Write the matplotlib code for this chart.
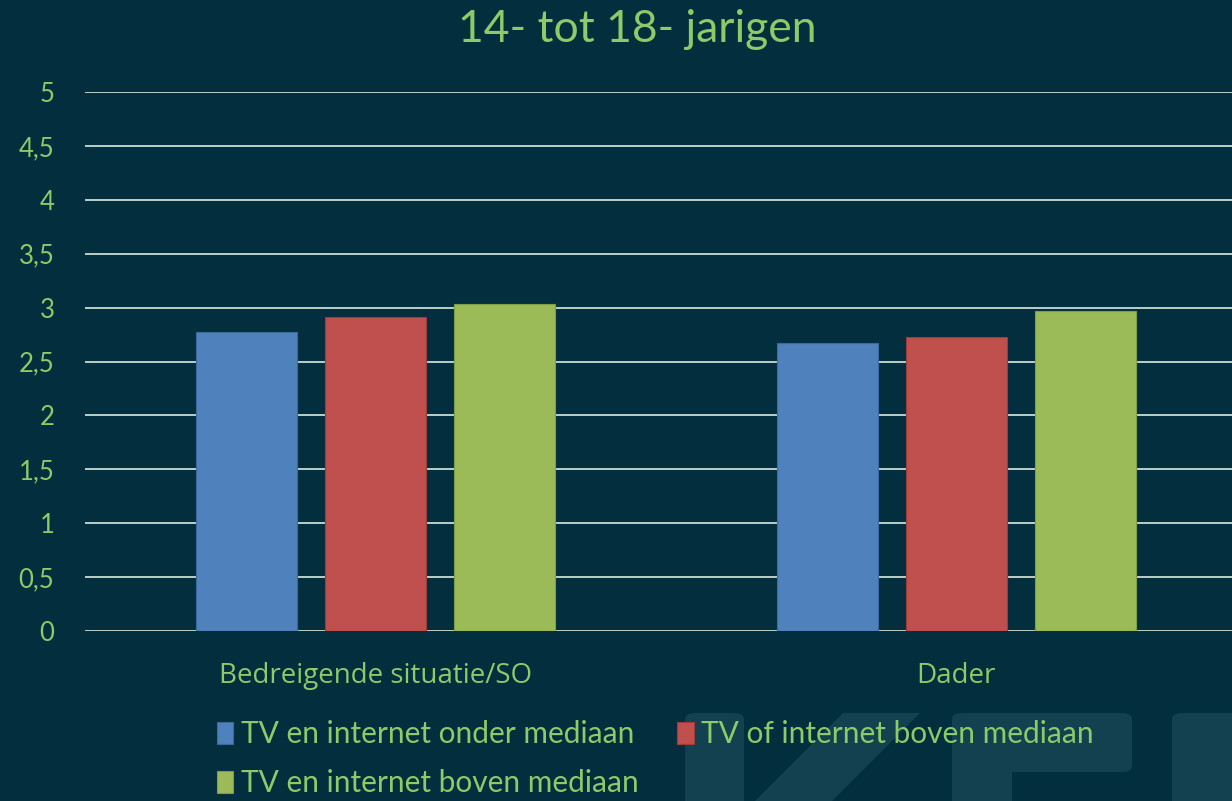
import matplotlib
matplotlib.use("Agg")
import matplotlib.pyplot as plt
from matplotlib.patches import FancyBboxPatch, Polygon
import numpy as np

# ---- data ----
categories = ["Bedreigende situatie/SO", "Dader"]
series_names = ["TV en internet onder mediaan",
                "TV of internet boven mediaan",
                "TV en internet boven mediaan"]
values_low = [2.77, 2.67]
values_mixed = [2.91, 2.73]
values_high = [3.03, 2.97]
title = "14- tot 18- jarigen"
yticks = [0, 0.5, 1, 1.5, 2, 2.5, 3, 3.5, 4, 4.5, 5]
ytick_labels = ["0", "0,5", "1", "1,5", "2", "2,5", "3", "3,5", "4", "4,5", "5"]

# ---- style ----
BG = "#022E3E"
TXT = "#8DCB68"
GRID = "#C9DDD3"
WM = "#13414F"
colors = ["#4F81BD", "#C0504D", "#9BBB59"]
edges = ["#3B6A9E", "#9E3C3A", "#7F9E45"]

W, H = 1232, 801
fig = plt.figure(figsize=(W / 100, H / 100), dpi=100, facecolor=BG)

def px(x, y):
    return x / W, 1 - y / H

# watermark logo shapes (decorative background)
def rbox(x0, y0, x1, y1):
    (fx0, fy1), (fx1, fy0) = px(x0, y0), px(x1, y1)
    p = FancyBboxPatch((fx0, fy0), fx1 - fx0, fy1 - fy0,
                       boxstyle="round,pad=0,rounding_size=0.008",
                       transform=fig.transFigure, facecolor=WM,
                       edgecolor="none", zorder=0)
    fig.patches.append(p)

rbox(685, 713, 744, 830)
rbox(952, 713, 1132, 772)
rbox(952, 713, 1012, 830)
rbox(1172, 713, 1260, 830)
poly = Polygon([px(843, 713), px(920, 713), px(832, 801), px(755, 801)],
               closed=True, transform=fig.transFigure, facecolor=WM,
               edgecolor="none", zorder=0)
fig.patches.append(poly)

ax = fig.add_axes([85 / W, 1 - 631 / H, (W - 85) / W, (631 - 92) / H])
ax.set_facecolor("none")

x = np.arange(len(categories))
bw = 0.174
off = 0.222
for i, vals in enumerate([values_low, values_mixed, values_high]):
    ax.bar(x + (i - 1) * off, vals, width=bw, color=colors[i],
           edgecolor=edges[i], linewidth=0.8, label=series_names[i], zorder=3)

ax.set_xlim(-0.5, (W - 375) / 581)
ax.set_ylim(0, 5)
ax.set_yticks(yticks)
ax.set_yticklabels(ytick_labels)
ax.set_xticks(x)
ax.set_xticklabels(categories)
ax.grid(axis="y", color=GRID, linewidth=1.3, zorder=1)
ax.set_axisbelow(True)
for s in ax.spines.values():
    s.set_visible(False)
ax.tick_params(axis="both", length=0, colors=TXT)
ax.tick_params(axis="y", pad=22, labelsize=18.5)
ax.tick_params(axis="x", pad=22, labelsize=20)
for lab in ax.get_xticklabels():
    lab.set_fontfamily("Open Sans")
for lab in ax.get_yticklabels():
    lab.set_fontfamily("Lato")

fig.text(637 / W, 1 - 30 / H, title, ha="center", va="center",
         color=TXT, fontsize=32, fontfamily="Lato")

handles, labels = ax.get_legend_handles_labels()
order = [0, 2, 1]
leg = fig.legend([handles[i] for i in order], [labels[i] for i in order],
                 loc="upper left", bbox_to_anchor=px(217, 720), ncol=2,
                 frameon=False, handlelength=0.55,
                 handleheight=0.75, handletextpad=0.25, columnspacing=1.3,
                 labelspacing=0.72, borderpad=0, borderaxespad=0,
                 prop={"family": "Lato", "size": 21.5})
for t in leg.get_texts():
    t.set_color(TXT)

fig.savefig("out.png", dpi=100, facecolor=BG)
